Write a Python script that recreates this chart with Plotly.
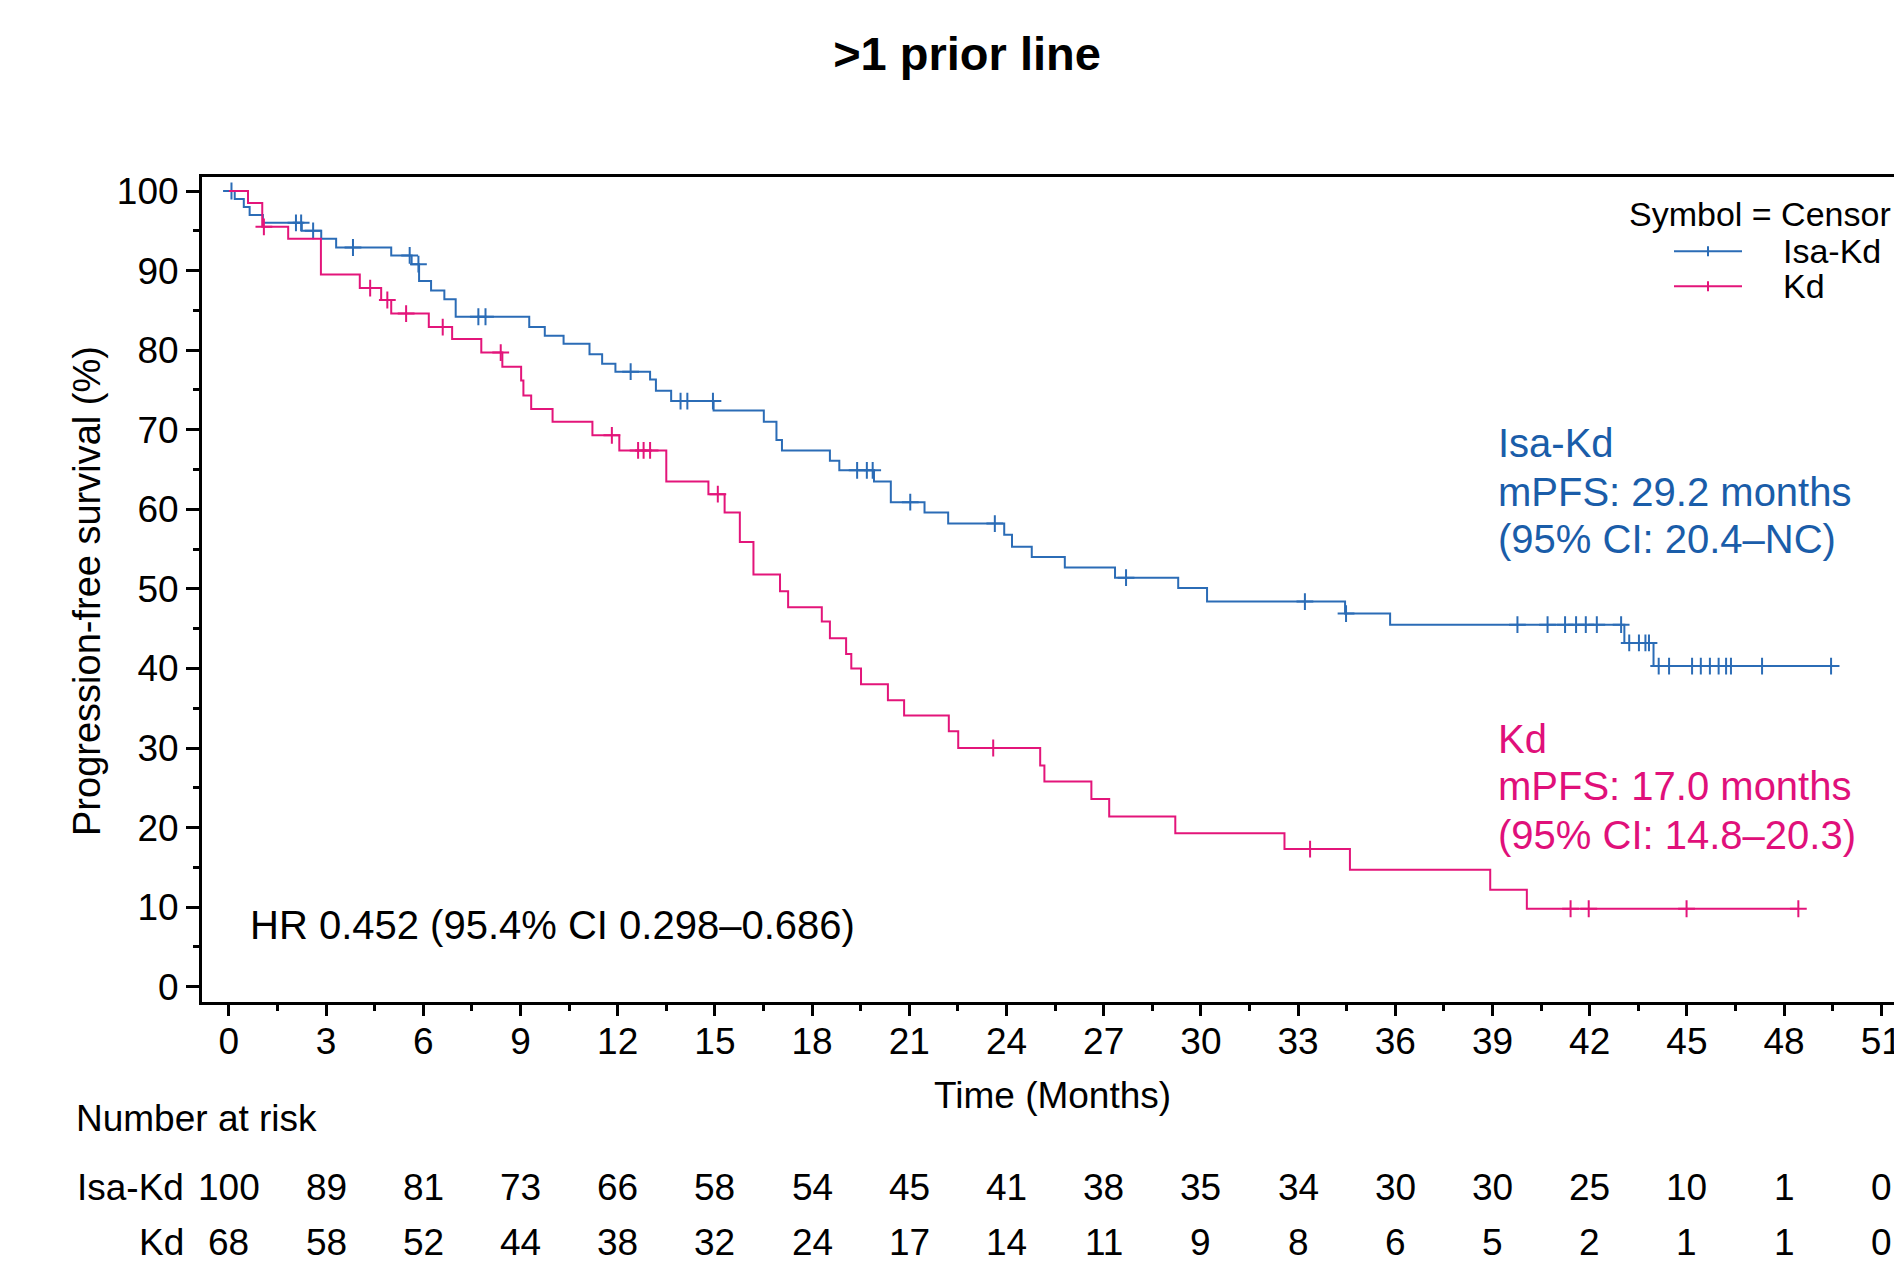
import numpy as np
import plotly.graph_objects as go

# ---------------- data ----------------
# Isa-Kd Kaplan-Meier step function (time in months, survival %)
isa_t = [0, 0.18, 0.46, 0.64, 1.05, 2.25, 2.85, 3.31, 5.01, 5.64, 5.87, 6.24, 6.65, 7.0, 9.27,
         9.75, 10.33, 11.13, 11.52, 11.93, 13.0, 13.18, 13.65, 14.96, 16.51, 16.9, 17.07, 18.55,
         18.84, 19.91, 20.43, 21.47, 22.2, 23.93, 24.17, 24.78, 25.8, 27.35, 29.3, 30.19, 34.45,
         35.84, 43.07, 43.97]
isa_s = [100, 99, 98, 97, 96, 95, 94, 92.9, 91.9, 90.8, 88.7, 87.5, 86.4, 84.2, 82.9,
         81.8, 80.8, 79.5, 78.3, 77.3, 76.3, 74.9, 73.6, 72.4, 71.0, 68.7, 67.4, 66.1,
         64.9, 63.5, 60.9, 59.6, 58.2, 56.8, 55.3, 54.0, 52.7, 51.4, 50.1, 48.4, 46.9,
         45.5, 43.2, 40.3]
isa_end = 49.55
isa_cens = [0.08, 2.07, 2.23, 2.6, 3.83, 5.58, 5.85, 7.7, 7.92, 12.4, 13.94, 14.15, 14.94, 19.39,
            19.69, 19.87, 21.03, 23.64, 27.69, 33.21, 34.48, 39.77, 40.70, 41.24, 41.58, 41.88,
            42.22, 42.97, 43.22, 43.52, 43.72, 43.83, 44.13, 44.45, 45.16, 45.43, 45.71, 45.98,
            46.21, 46.36, 47.32, 49.45]

# Kd Kaplan-Meier step function
kd_t = [0, 0.59, 1.03, 1.83, 2.84, 4.04, 4.70, 5.01, 6.17, 6.89, 7.79, 8.44, 9.02, 9.09, 9.33,
        9.99, 11.22, 12.05, 13.5, 14.8, 15.3, 15.77, 16.19, 17.01, 17.26, 18.3, 18.55, 19.05,
        19.21, 19.51, 20.34, 20.84, 22.22, 22.51, 25.04, 25.17, 26.62, 27.17, 29.21, 32.58,
        34.6, 38.93, 40.06]
kd_s = [100, 98.5, 95.5, 94.0, 89.5, 87.8, 86.3, 84.6, 82.9, 81.4, 79.7, 77.9, 76.2, 74.3, 72.6,
        71.0, 69.3, 67.4, 63.5, 61.9, 59.6, 55.9, 51.8, 49.7, 47.7, 45.9, 43.8, 41.8,
        40.0, 38.0, 36.0, 34.1, 32.1, 30.0, 27.8, 25.8, 23.6, 21.4, 19.3, 17.3,
        14.7, 12.2, 9.8]
kd_end = 48.44
kd_cens = [1.08, 4.36, 4.89, 5.47, 6.6, 8.39, 11.82, 12.63, 12.8, 13.0, 15.09, 23.59, 33.37,
           41.41, 41.97, 44.99, 48.44]

# Number at risk
risk_times = [0, 3, 6, 9, 12, 15, 18, 21, 24, 27, 30, 33, 36, 39, 42, 45, 48, 51]
risk_isa = [100, 89, 81, 73, 66, 58, 54, 45, 41, 38, 35, 34, 30, 30, 25, 10, 1, 0]
risk_kd = [68, 58, 52, 44, 38, 32, 24, 17, 14, 11, 9, 8, 6, 5, 2, 1, 1, 0]

x_ticks = list(range(0, 52, 3))
y_ticks = list(range(0, 101, 10))

# ---------------- style ----------------
BLUE_LINE = "#2B6CB6"
BLUE_TXT = "#1A5DA9"
PINK_LINE = "#E3157A"
PINK_TXT = "#E0107A"
FONT = "Liberation Sans, Arial, Helvetica, sans-serif"

W, H = 1894, 1263
L, R, T, B = 202, 0, 177, 261
PW, PH = W - L - R, H - T - B


def px(x):
    return (x - L) / PW


def py(y):
    return (H - B - y) / PH


def censor_y(times, surv, cens):
    idx = np.searchsorted(np.array(times), np.array(cens), side="right") - 1
    return [surv[i] for i in idx]


fig = go.Figure()
for t, s, end, cens, col in [(isa_t, isa_s, isa_end, isa_cens, BLUE_LINE),
                             (kd_t, kd_s, kd_end, kd_cens, PINK_LINE)]:
    fig.add_trace(go.Scatter(x=t + [end], y=s + [s[-1]], mode="lines",
                             line=dict(color=col, width=2, shape="hv"),
                             showlegend=False, hoverinfo="skip"))
    fig.add_trace(go.Scatter(x=cens, y=censor_y(t, s, cens), mode="markers",
                             marker=dict(symbol="cross-thin", size=12,
                                         line=dict(color=col, width=2)),
                             showlegend=False, hoverinfo="skip"))

ann = []
# in-plot texts
for txt, y in [("Isa-Kd", 443), ("mPFS: 29.2 months", 491.6), ("(95% CI: 20.4–NC)", 538.8)]:
    ann.append(dict(text=txt, x=px(1496), y=py(y), xref="paper", yref="paper",
                    xanchor="left", yanchor="middle", showarrow=False,
                    font=dict(size=40, color=BLUE_TXT)))
for txt, y in [("Kd", 738.5), ("mPFS: 17.0 months", 786.4), ("(95% CI: 14.8–20.3)", 834.7)]:
    ann.append(dict(text=txt, x=px(1496), y=py(y), xref="paper", yref="paper",
                    xanchor="left", yanchor="middle", showarrow=False,
                    font=dict(size=40, color=PINK_TXT)))
ann.append(dict(text="HR 0.452 (95.4% CI 0.298–0.686)", x=px(248), y=py(925),
                xref="paper", yref="paper", xanchor="left", yanchor="middle",
                showarrow=False, font=dict(size=40, color="black")))

# axis titles
ann.append(dict(text="Time (Months)", x=px(1052), y=py(1095), xref="paper", yref="paper",
                xanchor="center", yanchor="middle", showarrow=False,
                font=dict(size=37, color="black")))
ann.append(dict(text="Progression-free survival (%)", x=px(87), y=py(591), xref="paper",
                yref="paper", xanchor="center", yanchor="middle", textangle=-90,
                showarrow=False, font=dict(size=38, color="black")))

# number at risk table
ann.append(dict(text="Number at risk", x=px(74), y=py(1118), xref="paper", yref="paper",
                xanchor="left", yanchor="middle", showarrow=False,
                font=dict(size=37, color="black")))
for lab, vals, y in [("Isa-Kd", risk_isa, 1187), ("Kd", risk_kd, 1242)]:
    ann.append(dict(text=lab, x=px(186), y=py(y), xref="paper", yref="paper",
                    xanchor="right", yanchor="middle", showarrow=False,
                    font=dict(size=37, color="black")))
    for tt, v in zip(risk_times, vals):
        ann.append(dict(text=str(v), x=tt, y=py(y), xref="x", yref="paper",
                        xanchor="center", yanchor="middle", showarrow=False,
                        font=dict(size=37, color="black")))

# legend (custom, SAS style)
ann.append(dict(text="Symbol = Censor", x=px(1627), y=py(214), xref="paper", yref="paper",
                xanchor="left", yanchor="middle", showarrow=False,
                font=dict(size=34, color="black")))
shapes = []
for lab, col, y in [("Isa-Kd", BLUE_LINE, 251.3), ("Kd", PINK_LINE, 286.3)]:
    ann.append(dict(text=lab, x=px(1781), y=py(y), xref="paper", yref="paper",
                    xanchor="left", yanchor="middle", showarrow=False,
                    font=dict(size=34, color="black")))
    shapes.append(dict(type="line", xref="paper", yref="paper", x0=px(1674), x1=px(1742),
                       y0=py(y), y1=py(y), line=dict(color=col, width=2)))
    shapes.append(dict(type="line", xref="paper", yref="paper", x0=px(1708), x1=px(1708),
                       y0=py(y - 5), y1=py(y + 5), line=dict(color=col, width=2)))

axis_common = dict(showline=True, linecolor="black", linewidth=3, showgrid=False,
                   zeroline=False, ticks="outside", tickcolor="black", tickwidth=2.5,
                   tickfont=dict(size=37, color="black"), ticklabeloverflow="allow")

fig.update_layout(
    width=W, height=H, autosize=False,
    margin=dict(l=L, r=R, t=T, b=B, pad=0),
    paper_bgcolor="white", plot_bgcolor="white",
    font=dict(family=FONT, color="black"),
    title=dict(text=">1 prior line", x=967 / W, xanchor="center", y=1 - 54 / H,
               yanchor="middle", font=dict(size=47, color="black", weight="bold")),
    xaxis=dict(range=[-0.83, -0.83 + PW / 32.4], tickvals=x_ticks, ticklen=11, mirror=True,
               ticklabelstandoff=-6,
               minor=dict(ticks="outside", ticklen=6, tickwidth=2.5, tickcolor="black",
                          tick0=0, dtick=1.5, showgrid=False),
               automargin=False, **axis_common),
    yaxis=dict(range=[-1.92, 101.76], tickvals=y_ticks, ticklen=13, mirror=False,
               minor=dict(ticks="outside", ticklen=6, tickwidth=2.5, tickcolor="black",
                          tick0=0, dtick=5, showgrid=False),
               automargin=False, **axis_common),
    annotations=ann,
    shapes=shapes,
)

fig.write_html("out.html", config={"displayModeBar": False},
               post_script="document.body.style.margin='0';")
